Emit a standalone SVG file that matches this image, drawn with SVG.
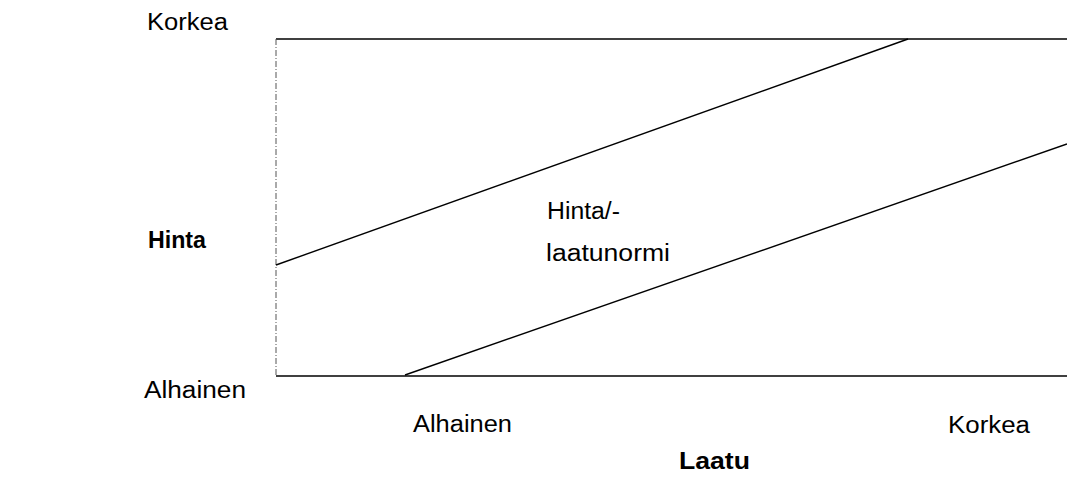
<svg xmlns="http://www.w3.org/2000/svg" width="1067" height="477" viewBox="0 0 1067 477">
<style>
text{font-family:"Liberation Sans",Arial,sans-serif;font-size:23px;fill:#000}
.b{font-weight:bold}
.ax{stroke:#000;stroke-width:1.5;fill:none}
.ln{stroke:#000;stroke-width:1.4;fill:none}
</style>
<rect width="1067" height="477" fill="#fff"/>
<g id="frame">
<line class="ax" x1="276" y1="39" x2="1067" y2="39"/>
<line class="ax" x1="276" y1="376" x2="1067" y2="376"/>
<line x1="276" y1="39" x2="276" y2="376" stroke="#555" stroke-width="1" stroke-dasharray="6,2,1,2"/>
</g>
<g id="connectors">
<line class="ln" x1="276" y1="265" x2="908" y2="39"/>
<line class="ln" x1="405" y1="375" x2="1067" y2="144"/>
</g>
<g id="labels">
<text x="147" y="30" textLength="81" lengthAdjust="spacingAndGlyphs">Korkea</text>
<text class="b" x="148" y="248" textLength="58" lengthAdjust="spacingAndGlyphs">Hinta</text>
<text x="144" y="398" textLength="102" lengthAdjust="spacingAndGlyphs">Alhainen</text>
<text x="413" y="432" textLength="99" lengthAdjust="spacingAndGlyphs">Alhainen</text>
<text x="948" y="433" textLength="82" lengthAdjust="spacingAndGlyphs">Korkea</text>
<text class="b" x="679" y="469" textLength="71" lengthAdjust="spacingAndGlyphs">Laatu</text>
</g>
<g id="norm">
<text x="547" y="219" textLength="73" lengthAdjust="spacingAndGlyphs">Hinta/-</text>
<text x="546" y="261" textLength="124" lengthAdjust="spacingAndGlyphs">laatunormi</text>
</g>
</svg>
